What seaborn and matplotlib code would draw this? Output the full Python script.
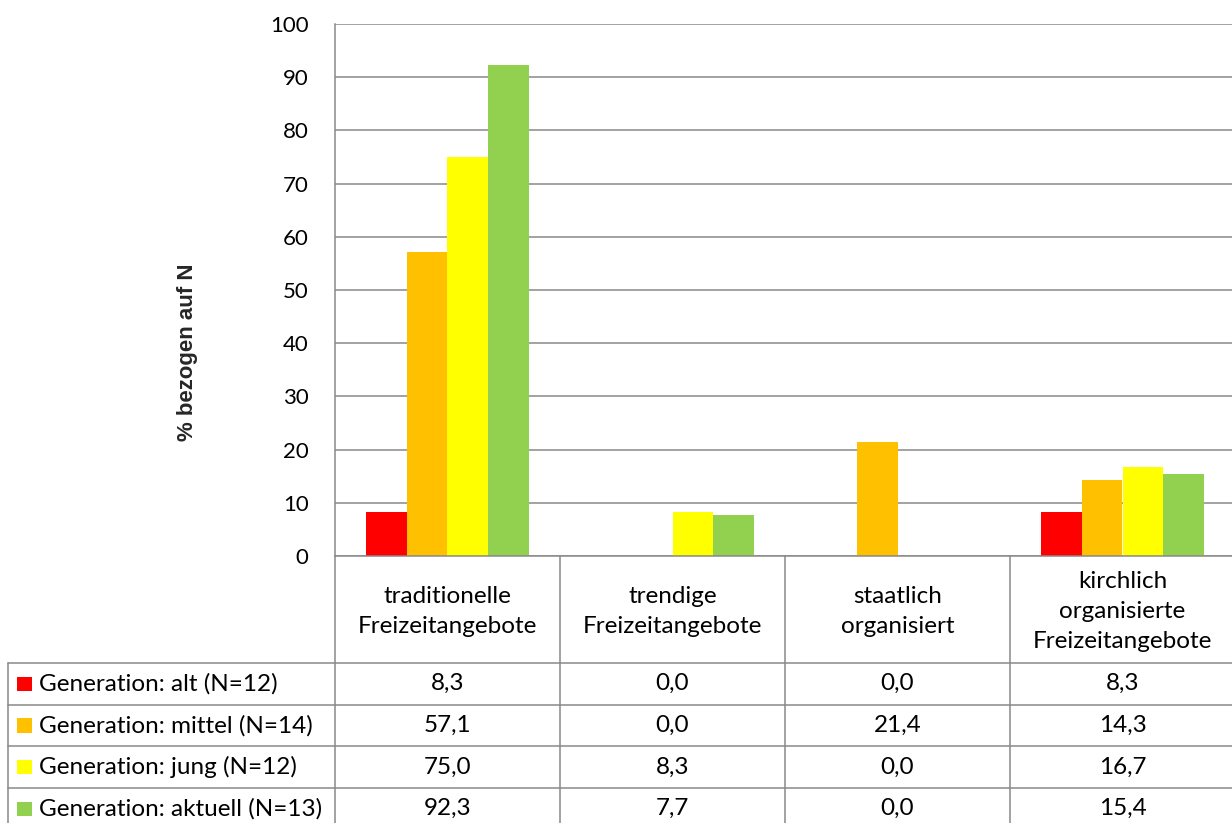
import matplotlib
matplotlib.use("Agg")
import matplotlib.pyplot as plt
import pandas as pd
import seaborn as sns

categories = [
    "traditionelle\nFreizeitangebote",
    "trendige\nFreizeitangebote",
    "staatlich\norganisiert",
    "kirchlich\norganisierte\nFreizeitangebote",
]
generations = [
    "Generation: alt (N=12)",
    "Generation: mittel (N=14)",
    "Generation: jung (N=12)",
    "Generation: aktuell (N=13)",
]
alt = [8.3, 0.0, 0.0, 8.3]
mittel = [57.1, 0.0, 21.4, 14.3]
jung = [75.0, 8.3, 0.0, 16.7]
aktuell = [92.3, 7.7, 0.0, 15.4]
colors = ["#FF0000", "#FFC000", "#FFFF00", "#92D050"]

W, H = 1232, 823
GRID = "#898989"
FS = 17.5

sns.set_theme(style="white")
plt.rcParams["font.family"] = ["Lato", "DejaVu Sans"]

rows = []
for gen, vals in zip(generations, [alt, mittel, jung, aktuell]):
    for cat, v in zip(categories, vals):
        rows.append({"cat": cat, "gen": gen, "val": v})
df = pd.DataFrame(rows)

fig = plt.figure(figsize=(W / 100, H / 100), dpi=100)
ax = fig.add_axes([335 / W, (H - 556) / H, (W - 335) / W, (556 - 24) / H])

sns.barplot(data=df, x="cat", y="val", hue="gen", palette=colors,
            width=0.725, saturation=1, legend=False, ax=ax, zorder=3,
            linewidth=0)

ax.set_xlim(-0.5, (W - 335) / 225 - 0.5)
ax.set_ylim(0, 100)
ax.set_yticks(range(0, 101, 10))
ax.yaxis.grid(True, color=GRID, lw=1.1)
ax.set_axisbelow(True)
ax.set_xticks([])
ax.set_xlabel("")
ax.set_ylabel("")
ax.tick_params(axis="y", length=0, pad=19, labelsize=16, labelcolor="black")
for s in ["top", "right"]:
    ax.spines[s].set_visible(False)
for s in ["left", "bottom"]:
    ax.spines[s].set_color(GRID)
    ax.spines[s].set_linewidth(1.1)
    ax.spines[s].set_zorder(4)

fig.text(188 / W, 1 - 352 / H, "% bezogen auf N", rotation=90, ha="center",
         va="center", fontsize=16, fontweight="bold",
         family=["Liberation Sans", "DejaVu Sans"])

# data table below the plot, in pixel coordinates (y from top)
tab = fig.add_axes([0, 0, 1, 1])
tab.set_xlim(0, W)
tab.set_ylim(H, 0)
tab.axis("off")
tab.patch.set_visible(False)

edges = [ax.transData.transform((i - 0.5, 0))[0] for i in range(len(categories) + 1)]
header_bottom = 663
row_h = 41.6
table_left = 8.3
n_rows = len(generations)
bottom = header_bottom + row_h * n_rows

for x in edges:
    tab.plot([x, x], [556, bottom], color=GRID, lw=1.1)
tab.plot([table_left, table_left], [header_bottom, bottom], color=GRID, lw=1.1)
for r in range(n_rows + 1):
    y = header_bottom + r * row_h
    tab.plot([table_left, W], [y, y], color=GRID, lw=1.1)

for i, cat in enumerate(categories):
    cx = (edges[i] + edges[i + 1]) / 2
    tab.text(cx, (556 + header_bottom) / 2 + 2, cat, ha="center", va="center",
             fontsize=FS, linespacing=1.5, color="black")

for r, (gen, vals, col) in enumerate(zip(generations, [alt, mittel, jung, aktuell], colors)):
    cy = header_bottom + (r + 0.5) * row_h
    tab.add_patch(plt.Rectangle((17.3, cy - 7), 14.4, 14.4, color=col, lw=0))
    tab.text(39, cy, gen, ha="left", va="center", fontsize=FS, color="black")
    for i, v in enumerate(vals):
        cx = (edges[i] + edges[i + 1]) / 2
        tab.text(cx, cy, f"{v:.1f}".replace(".", ","), ha="center", va="center",
                 fontsize=FS, color="black")

fig.savefig("out.png", dpi=100)
